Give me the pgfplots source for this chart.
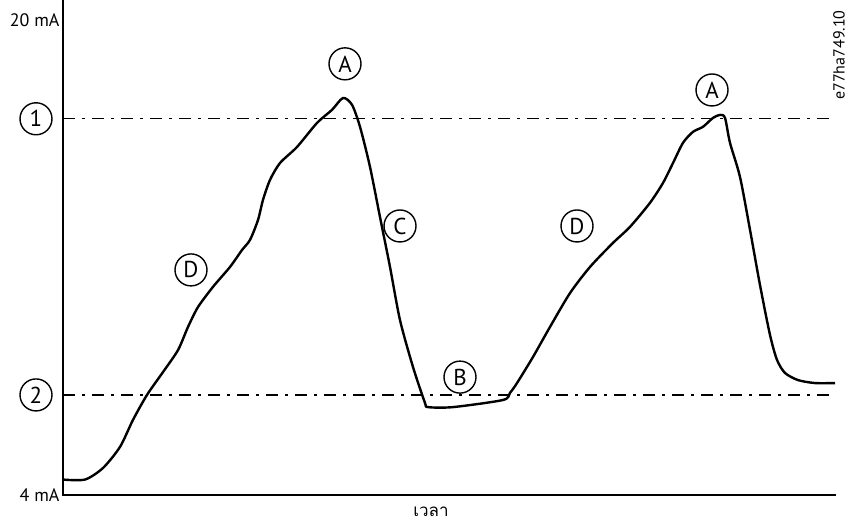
\documentclass[border=0pt]{standalone}
\usepackage{fontspec}
\setmainfont{PT Sans}
\newfontfamily\thaifont[Script=Thai]{Loma}
\usepackage{pgfplots}
\pgfplotsset{compat=1.18}

% curve: time (arbitrary units) vs. signal in mA
\begin{document}
\begin{tikzpicture}[
  circ/.style={circle, draw, line width=1.4pt, minimum size=32pt, inner sep=0pt,
               font=\fontsize{23}{24}\selectfont},
  lvl/.style={black, line width=1.3pt, dash pattern=on 12pt off 7pt on 3pt off 7pt},
]
\useasboundingbox (-63pt,-28pt) rectangle (786pt,495pt);
\begin{axis}[
    scale only axis,
    width=772pt, height=495pt,
    xmin=0, xmax=772, ymin=4, ymax=20.67,
    axis x line*=bottom, axis y line*=left,
    axis line style={line width=2.6pt, -, line cap=rect},
    xtick=\empty,
    ytick={4,20}, yticklabels={4 mA, 20 mA},
    major tick length=0pt,
    tick label style={font=\fontsize{18}{20}\selectfont},
    clip=false,
]
\addplot[lvl] coordinates {(0,16.67)(772,16.67)};
\addplot[lvl] coordinates {(0,7.37)(772,7.37)};

\addplot[black, line width=2.4pt, line join=round, smooth, tension=0.45] coordinates {
(0,4.52)(22,4.52)(40,4.91)(57,5.62)(70,6.53)(84,7.37)(100,8.14)(115,8.88)
(125,9.66)(135,10.33)(150,11.01)(167,11.68)(179,12.25)(187,12.59)(195,13.26)
(200,13.94)(207,14.61)(217,15.18)(234,15.72)(254,16.53)(269,16.97)(280,17.37)
(289,17.14)(297,16.40)(307,15.05)(317,13.36)(327,11.68)(337,9.89)(350,8.31)
(362,7.10)(365,6.96)(390,6.96)(440,7.20)(447,7.44)(454,7.77)(470,8.65)
(487,9.66)(507,10.80)(527,11.68)(550,12.49)(567,13.03)(587,13.84)(600,14.51)
(610,15.18)(620,15.86)(630,16.23)(640,16.40)(650,16.70)(657,16.80)(662,16.70)
(667,15.86)(677,14.71)(687,12.93)(697,11.07)(707,9.39)(714,8.55)(722,8.11)
(735,7.87)(752,7.77)(772,7.77)
};

\node[circ] at (axis cs:-27,16.67) {1};
\node[circ] at (axis cs:-27,7.37) {2};
\node[circ] at (axis cs:282,18.52) {A};
\node[circ] at (axis cs:649,17.64) {A};
\node[circ] at (axis cs:337,13.06) {C};
\node[circ] at (axis cs:128,11.58) {D};
\node[circ] at (axis cs:514,13.06) {D};
\node[circ] at (axis cs:397,7.97) {B};

\node[font=\thaifont\fontsize{17}{20}\selectfont, yshift=-17pt] at (axis cs:368,4) {เวลา};
\node[rotate=90, inner sep=0pt, font=\fontsize{16}{18}\selectfont] at (axis cs:776,18.82) {e77ha749.10};
\end{axis}
\end{tikzpicture}
\end{document}
